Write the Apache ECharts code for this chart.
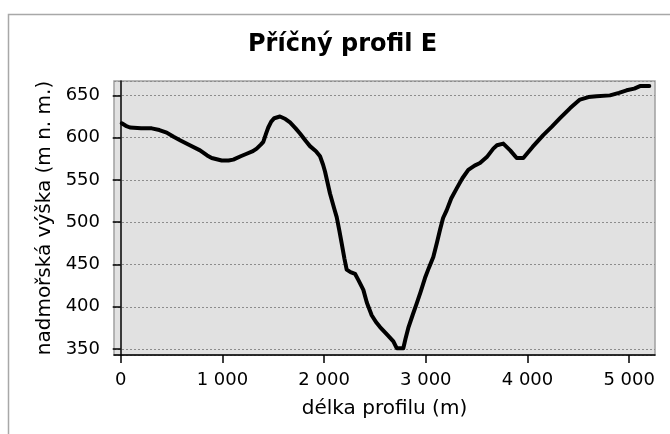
<!DOCTYPE html>
<html>
<head>
<meta charset="utf-8">
<title>Příčný profil E</title>
<script src="https://cdn.jsdelivr.net/npm/echarts@6/dist/echarts.min.js"></script>
<style>
    html, body { margin: 0; padding: 0; background: #fff; }
    #main { width: 670px; height: 434px; }
</style>
</head>
<body>
<div id="main"></div>
<script>
// vzdálenost od začátku profilu (m)
var delka = [10, 50, 91, 200, 305, 380, 452, 520, 583, 680, 780, 850, 895, 993, 1060, 1107, 1180, 1239,
    1300, 1337, 1380, 1402, 1430, 1451, 1480, 1510, 1566, 1620, 1665, 1720, 1763, 1820, 1861, 1920, 1960,
    1990, 2009, 2058, 2100, 2124, 2150, 2173, 2200, 2222, 2260, 2304, 2340, 2386, 2420, 2468, 2510, 2550,
    2620, 2681, 2714, 2779, 2800, 2828, 2870, 2911, 2950, 2992, 3030, 3074, 3110, 3140, 3170, 3205, 3250,
    3304, 3360, 3418, 3480, 3533, 3600, 3664, 3700, 3762, 3830, 3894, 3959, 4050, 4155, 4240, 4320, 4420,
    4516, 4600, 4680, 4811, 4900, 4975, 5050, 5106, 5198];

// nadmořská výška (m n. m.)
var vyska = [617, 614, 612, 611, 611, 609, 606, 601, 597, 591, 585, 579, 576, 573, 573, 574, 578, 581,
    584, 587, 592, 595, 605, 612, 619, 623, 625, 622, 618, 611, 605, 596, 590, 584, 578,
    568, 560, 534, 516, 506, 490, 475, 457, 444, 441, 439, 431, 420, 405, 390, 382, 376,
    367, 359, 351, 351, 362, 375, 390, 404, 418, 434, 446, 459, 476, 491, 505, 514, 528,
    540, 552, 562, 567, 570, 577, 587, 591, 593, 585, 576, 576, 589, 603, 613, 623, 635,
    645, 648, 649, 650, 653, 656, 658, 661, 661];

var nazev = 'Příčný profil E';
var osaX = 'délka profilu (m)';
var osaY = 'nadmořská výška (m n. m.)';

var body = delka.map(function(d, i) { return [d, vyska[i]]; });

var pismo = 'DejaVu Sans';

var myChart = echarts.init(document.getElementById('main'));

var option = {
    backgroundColor: '#fff',
    animation: false,
    title: {
        text: nazev,
        left: 243,
        top: 28,
        textStyle: {
            fontFamily: pismo,
            fontWeight: 'bold',
            fontSize: 24,
            color: '#000'
        }
    },
    // šedý rámeček kolem celého grafu
    graphic: [{
        type: 'rect',
        left: 6,
        top: 12,
        shape: { width: 720, height: 500 },
        style: { fill: 'none', stroke: '#a8a8a8', lineWidth: 1.5 },
        z: -1
    }],
    grid: {
        left: 114,
        top: 81,
        right: 15,
        bottom: 79,
        show: true,
        backgroundColor: '#e1e1e1',
        borderColor: '#a0a0a0',
        borderWidth: 1.5
    },
    xAxis: {
        type: 'value',
        min: -66,
        max: 5254,
        name: osaX,
        nameLocation: 'middle',
        nameGap: 44,
        nameTextStyle: { fontFamily: pismo, fontSize: 20, color: '#000' },
        axisLine: { onZero: false, lineStyle: { color: '#000', width: 1.5 } },
        axisTick: { show: true, length: 8, lineStyle: { color: '#000', width: 1.5 } },
        axisLabel: {
            margin: 16,
            fontFamily: pismo,
            fontSize: 18,
            color: '#000',
            formatter: function(v) {
                return String(v).replace(/\B(?=(\d{3})+(?!\d))/g, ' ');
            }
        },
        splitLine: { show: false }
    },
    yAxis: {
        type: 'value',
        min: 343,
        max: 667,
        name: osaY,
        nameLocation: 'middle',
        nameGap: 58,
        nameTextStyle: { fontFamily: pismo, fontSize: 20, color: '#000' },
        axisLine: { show: true, lineStyle: { color: '#000', width: 1.5 } },
        axisTick: { show: true, length: 8, lineStyle: { color: '#000', width: 1.5 } },
        axisLabel: { margin: 14, fontFamily: pismo, fontSize: 18, color: '#000' },
        splitLine: {
            show: true,
            lineStyle: { color: '#8c8c8c', type: [2, 2], width: 1 }
        }
    },
    series: [{
        name: 'profil',
        type: 'line',
        data: body,
        showSymbol: false,
        smooth: false,
        lineStyle: { color: '#000', width: 4, cap: 'round', join: 'round' },
        z: 3
    }]
};

myChart.setOption(option);
</script>
</body>
</html>
